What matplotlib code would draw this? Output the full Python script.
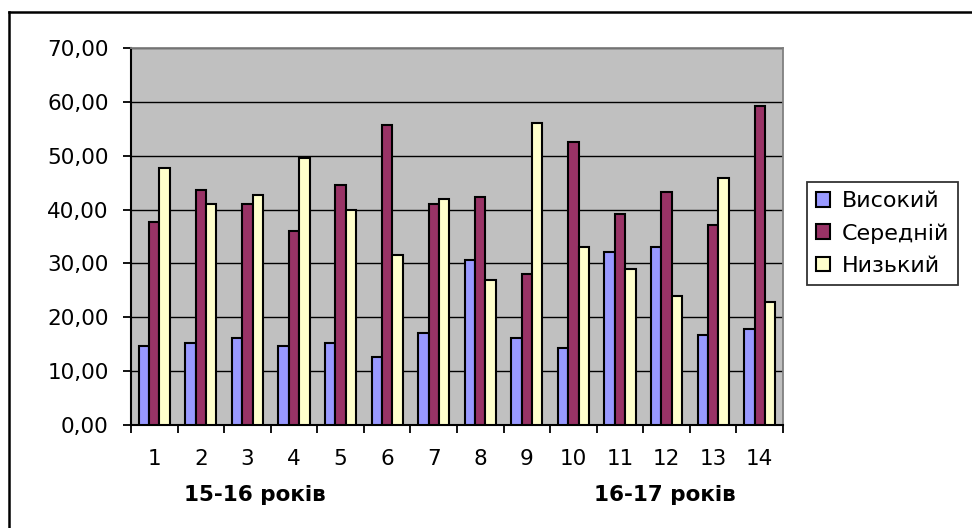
import numpy as np
import matplotlib
matplotlib.use("Agg")
import matplotlib.pyplot as plt
from matplotlib.lines import Line2D
from matplotlib.ticker import FuncFormatter, MultipleLocator

plt.rcParams['font.family'] = ['DejaVu Sans']

groups = np.arange(1, 15)
group_labels = [str(g) for g in groups]
series_names = ["Високий", "Середній", "Низький"]
vysokyi = [14.6, 15.2, 16.2, 14.6, 15.2, 12.7, 17.1, 30.6, 16.2, 14.3, 32.2, 33.0, 16.8, 17.8]
serednii = [37.6, 43.6, 41.1, 36.0, 44.6, 55.7, 41.1, 42.3, 28.0, 52.5, 39.1, 43.2, 37.2, 59.2]
nyzkyi = [47.8, 41.1, 42.7, 49.6, 40.0, 31.5, 42.0, 27.0, 56.0, 33.0, 28.9, 23.9, 45.8, 22.9]
age_labels = ["15-16 років", "16-17 років"]

colors = ["#9999FF", "#993366", "#FFFFCC"]

fig = plt.figure(figsize=(9.72, 5.28), dpi=100)
ax = fig.add_axes([131 / 972, 103 / 528, 652 / 972, 377 / 528])
ax.set_facecolor("#C0C0C0")

# Excel-like column chart: 150% gap width
w = 1 / 4.5
for j, (vals, name) in enumerate(zip([vysokyi, serednii, nyzkyi], series_names)):
    ax.bar(groups + (j - 1) * w, vals, width=w, color=colors[j],
           edgecolor="black", linewidth=1.5, label=name, zorder=3)

ax.set_xlim(0.5, 14.5)
ax.set_ylim(0, 70)
ax.yaxis.set_major_locator(MultipleLocator(10))
ax.yaxis.set_major_formatter(FuncFormatter(lambda v, p: f"{v:.2f}".replace(".", ",")))
ax.grid(axis="y", color="black", linewidth=1.0, zorder=1)

ax.set_xticks(groups)
ax.set_xticklabels(group_labels)
ax.set_xticks(np.arange(0.5, 15, 1), minor=True)
ax.tick_params(axis="x", which="major", length=0, pad=17, labelsize=15.5)
ax.tick_params(axis="x", which="minor", length=6, width=1.3, direction="out")
ax.tick_params(axis="y", length=6, width=1.3, pad=10, labelsize=15.5)

for s in ["left", "bottom"]:
    ax.spines[s].set_color("black")
    ax.spines[s].set_linewidth(1.5)
for s in ["top", "right"]:
    ax.spines[s].set_color("#808080")
    ax.spines[s].set_linewidth(1.3)

fig.text(255 / 972, 1 - 495 / 528, age_labels[0], ha="center", va="center",
         fontsize=15.5, fontweight="bold")
fig.text(665 / 972, 1 - 495 / 528, age_labels[1], ha="center", va="center",
         fontsize=15.5, fontweight="bold")

leg = fig.legend(loc="upper left", bbox_to_anchor=(807 / 972, 1 - 182 / 528),
                 borderaxespad=0, fontsize=16, frameon=True, fancybox=False,
                 handlelength=0.65, handleheight=0.65, handletextpad=0.5,
                 labelspacing=0.55, borderpad=0.4)
leg.get_frame().set_edgecolor("black")
leg.get_frame().set_linewidth(1.3)

# outer chart border (left and top edges)
fig.add_artist(Line2D([9 / 972, 9 / 972], [0, 1 - 12 / 528], color="black", linewidth=1.8))
fig.add_artist(Line2D([9 / 972, 1], [1 - 12 / 528, 1 - 12 / 528], color="black", linewidth=1.8))

fig.savefig("out.png", dpi=100)
